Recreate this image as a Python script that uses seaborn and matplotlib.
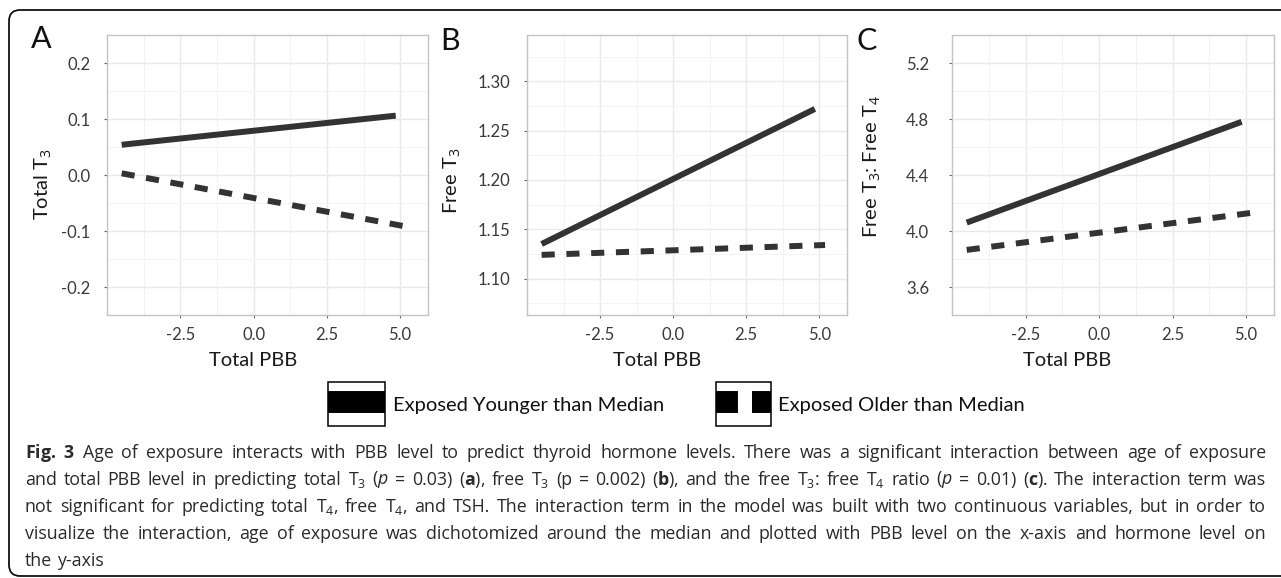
import numpy as np
import pandas as pd
import matplotlib.pyplot as plt
import seaborn as sns
from matplotlib.patches import Rectangle, FancyBboxPatch
from matplotlib.lines import Line2D
from matplotlib.transforms import IdentityTransform

# --- data (fitted lines, two age groups) ---
groups = ['Exposed Younger than Median', 'Exposed Older than Median']
x_younger = [-4.5, 4.85]
x_older = [-4.5, 5.2]
total_t3_younger = [0.054, 0.106]
total_t3_older = [0.003, -0.092]
free_t3_younger = [1.135, 1.272]
free_t3_older = [1.124, 1.134]
ratio_younger = [4.06, 4.78]
ratio_older = [3.865, 4.13]

x_ticks = [-2.5, 0.0, 2.5, 5.0]
x_ticklabels = ['-2.5', '0.0', '2.5', '5.0']
total_t3_ticks = [-0.2, -0.1, 0.0, 0.1, 0.2]
total_t3_ticklabels = ['-0.2', '-0.1', '0.0', '0.1', '0.2']
free_t3_ticks = [1.10, 1.15, 1.20, 1.25, 1.30]
free_t3_ticklabels = ['1.10', '1.15', '1.20', '1.25', '1.30']
ratio_ticks = [3.6, 4.0, 4.4, 4.8, 5.2]
ratio_ticklabels = ['3.6', '4.0', '4.4', '4.8', '5.2']

caption = [
    r"$\mathbf{Fig.~3}$ Age of exposure interacts with PBB level to predict thyroid hormone levels. There was a significant interaction between age of exposure",
    r"and total PBB level in predicting total T$_3$ ($p$ = 0.03) ($\mathbf{a}$), free T$_3$ (p = 0.002) ($\mathbf{b}$), and the free T$_3$: free T$_4$ ratio ($p$ = 0.01) ($\mathbf{c}$). The interaction term was",
    r"not significant for predicting total T$_4$, free T$_4$, and TSH. The interaction term in the model was built with two continuous variables, but in order to",
    r"visualize the interaction, age of exposure was dichotomized around the median and plotted with PBB level on the x-axis and hormone level on",
    r"the y-axis",
]

W, H = 1281, 578

sns.set_theme(style='white')
plt.rcParams['font.family'] = ['Lato', 'DejaVu Sans']
plt.rcParams['mathtext.fontset'] = 'custom'
plt.rcParams['mathtext.rm'] = 'Open Sans'
plt.rcParams['mathtext.it'] = 'Open Sans:italic'
plt.rcParams['mathtext.bf'] = 'Open Sans:bold'
plt.rcParams['lines.solid_capstyle'] = 'butt'
plt.rcParams['lines.dash_capstyle'] = 'butt'

fig = plt.figure(figsize=(W / 100, H / 100), dpi=100)

panels = [
    # x0, x1, ylim, ticks, labels, ylabel, letter, letter pos, ylabel x/y, ytick pad, xlabel x
    (107, 428, (-0.207, 0.22), total_t3_ticks, total_t3_ticklabels, 'Total T$_3$',
     total_t3_younger, total_t3_older, 'A', (31, 48), (43, 184), 9.5, 253),
    (527, 847, (1.063, 1.347), free_t3_ticks, free_t3_ticklabels, 'Free T$_3$',
     free_t3_younger, free_t3_older, 'B', (440, 50), (452, 181), 9.5, 657),
    (952, 1274, (3.511, 5.221), ratio_ticks, ratio_ticklabels, 'Free T$_3$: Free T$_4$',
     ratio_younger, ratio_older, 'C', (856, 50), (872, 167), 14, 1067),
]

top, bottom = 35, 315
for (x0, x1, ylim, yt, ytl, ylab, yy, yo, letter, lpos, ylpos, ypad, xlx) in panels:
    ax = fig.add_axes([x0 / W, 1 - bottom / H, (x1 - x0) / W, (bottom - top) / H])
    df = pd.DataFrame({
        'pbb': x_younger + x_older,
        'level': yy + yo,
        'group': [groups[0]] * 2 + [groups[1]] * 2,
    })
    sns.lineplot(data=df, x='pbb', y='level', style='group', style_order=groups,
                 dashes={groups[0]: '', groups[1]: (2.2, 1.95)},
                 color='#333333', linewidth=4.3, legend=False,
                 estimator=None, sort=False, ax=ax)
    ax.set_xlim(-5.0, 5.95)
    ax.set_ylim(*ylim)
    ax.set_xticks(x_ticks, x_ticklabels)
    ax.set_yticks(yt, ytl)
    ax.set_xticks([-3.75, -1.25, 1.25, 3.75], minor=True)
    step = yt[1] - yt[0]
    ax.set_yticks(np.arange(yt[0] - step / 2, yt[-1] + step, step), minor=True)
    ax.grid(which='major', color='#e9e9e9', linewidth=1.0)
    ax.grid(which='minor', color='#f3f3f3', linewidth=0.7)
    ax.set_axisbelow(True)
    ax.tick_params(which='major', bottom=True, left=True, length=2.5, width=0.8,
                   color='#666666', labelsize=12, labelcolor='#3a3a3a')
    ax.tick_params(which='minor', length=0)
    ax.tick_params(axis='y', pad=ypad)
    ax.tick_params(axis='x', pad=6.5)
    for s in ax.spines.values():
        s.set_color('#c4c4c4')
        s.set_linewidth(1.0)

    ax.set_ylabel(ylab, fontsize=14.5, color='#1a1a1a')
    ax.yaxis.label.set_va('center')
    ax.yaxis.set_label_coords((ylpos[0] - x0) / (x1 - x0), (bottom - ylpos[1]) / (bottom - top))
    ax.set_xlabel('Total PBB', fontsize=14.5, color='#1a1a1a')
    ax.xaxis.label.set_va('center')
    ax.xaxis.set_label_coords((xlx - x0) / (x1 - x0), (bottom - 360) / (bottom - top))

    fig.text(lpos[0] / W, 1 - lpos[1] / H, letter, fontsize=22, va='baseline', ha='left',
             color='#111111')

# --- legend keys (ggplot style boxes) ---
px = IdentityTransform()
for (bx, bw, dash, tx, label) in [(328, 57, None, 393, groups[0]),
                                  (716, 55, (1.0, 0.64), 778, groups[1])]:
    fig.add_artist(Rectangle((bx, H - 426), bw, 44, facecolor='white', edgecolor='black',
                             linewidth=1.1, transform=px))
    key = Line2D([bx, bx + bw], [H - 402, H - 402], color='black', linewidth=15.8,
                 transform=px)
    if dash:
        key.set_dashes(dash)
    fig.add_artist(key)
    fig.text(tx / W, 1 - 406 / H, label, fontsize=14.5, va='center', ha='left',
             color='#111111')

# --- frame ---
fig.add_artist(FancyBboxPatch((9, H - 576), 1300, 566, boxstyle='round,pad=0,rounding_size=11',
                              facecolor='none', edgecolor='#111111', linewidth=1.3,
                              transform=px))

# --- caption, justified like the journal layout ---
renderer = fig.canvas.get_renderer()
left, right = 25, 1266
line_y = [453, 480, 507, 534, 561]
for i, line in enumerate(caption):
    words = line.split(' ')
    texts = [fig.text(0, 1 - line_y[i] / H, w, fontsize=12.8, va='center', ha='left',
                      color='#2a2a2a', family='Open Sans') for w in words]
    widths = [t.get_window_extent(renderer).width for t in texts]
    if i < len(caption) - 1:
        gap = (right - left - sum(widths)) / (len(words) - 1)
    else:
        gap = 4.5
    x = left
    for t, w in zip(texts, widths):
        t.set_x(x / W)
        x += w + gap

fig.savefig('out.png', dpi=100)
